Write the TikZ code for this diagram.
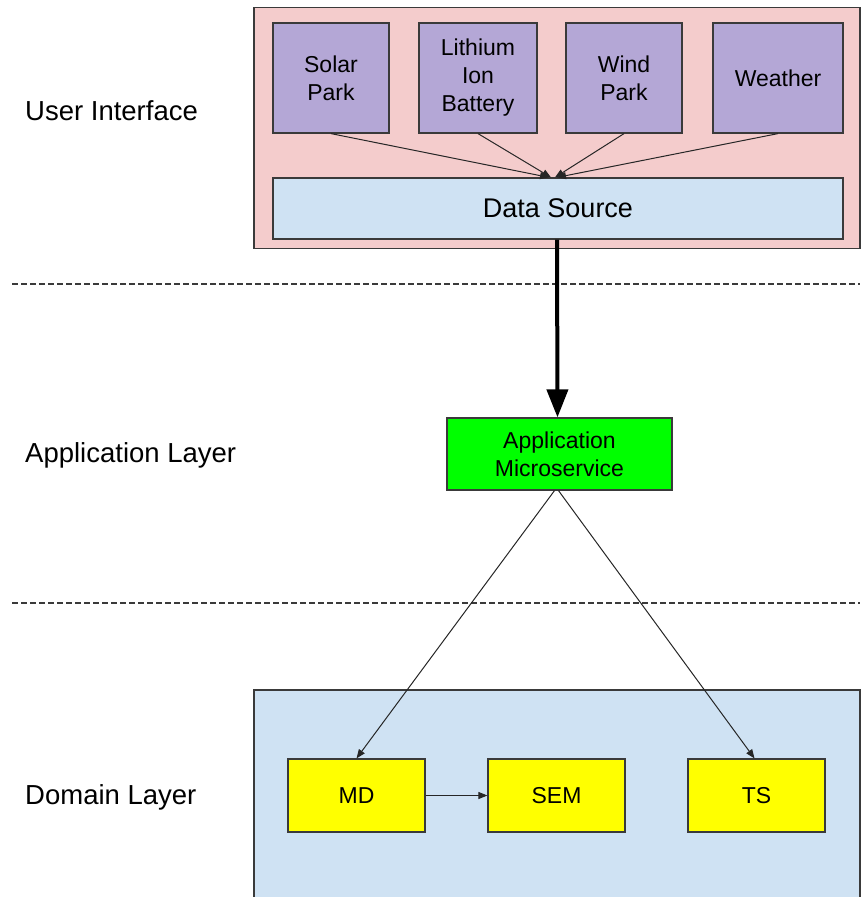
\documentclass[tikz,border=0pt]{standalone}
\usepackage{fontspec}
\setmainfont{Liberation Sans}
\usetikzlibrary{arrows.meta}
\definecolor{uipink}{HTML}{F4CCCC}
\definecolor{srcpurple}{HTML}{B4A7D6}
\definecolor{paleblue}{HTML}{CFE2F3}
\definecolor{appgreen}{HTML}{00FF00}
\definecolor{domyellow}{HTML}{FFFF00}
\definecolor{edgegray}{HTML}{3A3A3A}

\begin{document}
\begin{tikzpicture}[x=1pt,y=-1pt,
  box/.style={draw=edgegray,line width=1.2pt,inner sep=0pt,align=center,
    font=\fontsize{23}{28}\selectfont},
  srcbox/.style={box,fill=srcpurple,minimum height=110pt},
  domainbox/.style={box,fill=domyellow,minimum width=137pt,minimum height=73pt},
  layerlabel/.style={anchor=west,inner sep=0pt,font=\fontsize{27.5}{31}\selectfont},
  thinarrow/.style={draw=black!85,line width=1pt,-{Triangle[length=9pt,width=7pt]}},
  thickarrow/.style={draw=black,line width=4pt,-{Triangle[length=28pt,width=21pt]}},
  separator/.style={draw=edgegray,line width=1.2pt,dash pattern=on 6pt off 3pt}
]
\useasboundingbox (0,0) rectangle (863,897);

% user interface layer
\node[box,fill=uipink,minimum width=606pt,minimum height=241pt] (ui) at (557,128) {};
\node[srcbox,minimum width=116pt] (solar)   at (331,78) {Solar\\Park};
\node[srcbox,minimum width=118pt] (battery) at (478,78) {Lithium\\Ion\\Battery};
\node[srcbox,minimum width=116pt] (wind)    at (624,78) {Wind\\Park};
\node[srcbox,minimum width=130pt] (weather) at (778,78) {Weather};
\node[box,fill=paleblue,minimum width=570pt,minimum height=61pt,
      font=\fontsize{27}{30}\selectfont] (ds) at (558,208.5) {Data Source};

\draw[thinarrow] (solar.south)   -- ([xshift=-9pt]ds.north);
\draw[thinarrow] (battery.south) -- ([xshift=-7pt]ds.north);
\draw[thinarrow] (wind.south)    -- ([xshift=-3pt]ds.north);
\draw[thinarrow] (weather.south) -- ([xshift=-1pt]ds.north);

% layer separators
\coordinate (sepAl) at (12,284);
\coordinate (sepAr) at (860,284);
\coordinate (sepBl) at (12,603);
\coordinate (sepBr) at (860,603);
\draw[separator] (sepAl) -- (sepAr);
\draw[separator] (sepBl) -- (sepBr);

% application layer
\node[box,fill=appgreen,minimum width=225pt,minimum height=72pt] (app) at (559.5,454) {Application\\Microservice};
\draw[thickarrow] ([xshift=-1pt]ds.south) -- ([xshift=-2pt]app.north);

% domain layer (container runs off the lower edge)
\coordinate (domTL) at (254,690);
\coordinate (domTR) at (860,690);
\coordinate (domBL) at (254,897);
\coordinate (domBR) at (860,897);
\fill[paleblue] (domTL) rectangle (domBR);
\draw[edgegray,line width=1.2pt] (domBL) -- (domTL) -- (domTR) -- (domBR);

\node[domainbox] (md)  at (356.5,795.5) {MD};
\node[domainbox] (sem) at (556.5,795.5) {SEM};
\node[domainbox] (ts)  at (756.5,795.5) {TS};

\draw[thinarrow] ([xshift=-5pt]app.south) -- (md.north);
\draw[thinarrow] ([xshift=-1pt]app.south) -- ([xshift=-2pt]ts.north);
\draw[thinarrow] (md.east) -- (sem.west);

% layer captions
\node[layerlabel] (uilab)  at (25,111) {User Interface};
\node[layerlabel] (applab) at (25,455) {Application Layer};
\node[layerlabel] (domlab) at (25,797) {Domain Layer};
\end{tikzpicture}
\end{document}
